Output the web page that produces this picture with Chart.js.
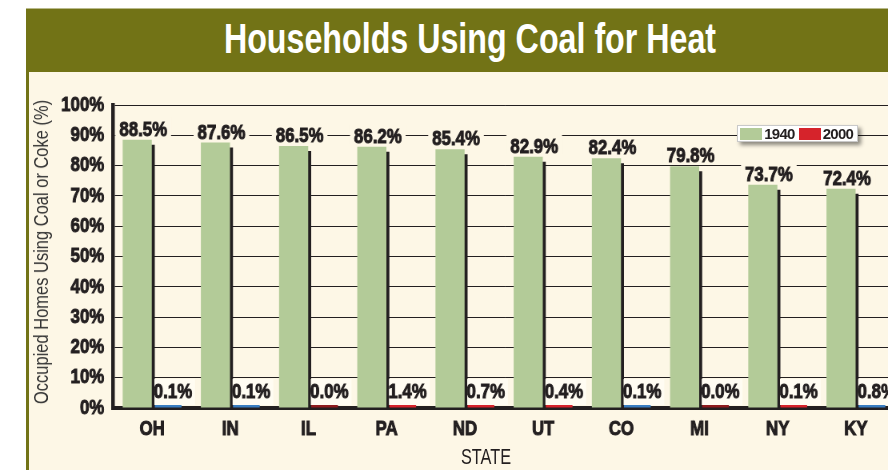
<!DOCTYPE html>
<html>
<head>
<meta charset="utf-8">
<title>Households Using Coal for Heat</title>
<script src="https://cdn.jsdelivr.net/npm/chart.js@4.4.1/dist/chart.umd.min.js"></script>
<style>
  html, body { margin: 0; padding: 0; background: #fff; width: 888px; height: 470px; overflow: hidden; position: relative; }
  #band { position: absolute; left: 26px; top: 8px; width: 900px; height: 64px; background: #727316; border-top: 1px solid #b9ba8c; box-sizing: border-box; }
  #band h1 { margin: 0; width: 888px; text-align: center; color: #fff; font: bold 42px 'Liberation Sans', Arial, sans-serif; line-height: 60px; transform: scaleX(0.767); white-space: nowrap; }
  #panel { position: absolute; left: 26px; top: 72px; width: 900px; height: 398px; background: #fdf7e6; border-left: 3px solid #727316; }
  #wrap { position: absolute; left: 0; top: 72px; width: 900px; height: 398px; }
  #chart { display: block; width: 900px; height: 398px; }
  #ytitle { position: absolute; left: 41px; top: 252px; white-space: nowrap; font: 21px 'Liberation Sans', Arial, sans-serif; color: #333; transform: translate(-50%, -50%) rotate(-90deg) scaleX(0.785); }
  #xtitle { position: absolute; left: 486px; top: 457px; white-space: nowrap; font: 22px 'Liberation Sans', Arial, sans-serif; color: #231f20; transform: translate(-50%, -50%) scaleX(0.74); }
  #legend { position: absolute; left: 737px; top: 125px; width: 121px; height: 17px; box-sizing: border-box; padding-left: 2px; background: #fff; border: 1px solid #c9c9c9; box-shadow: 3px 3px 4px rgba(0,0,0,0.45); display: flex; align-items: center; font: bold 15px 'Liberation Sans', Arial, sans-serif; color: #231f20; }
  #legend .sw { display: inline-block; width: 24px; height: 12px; margin-right: 2px; }
  #legend .lb { display: inline-block; width: 31px; margin-right: 4px; letter-spacing: -0.8px; }
</style>
</head>
<body>
<div id="band"><h1>Households Using Coal for Heat</h1></div>
<div id="panel"></div>
<div id="wrap"><canvas id="chart" width="1125" height="398" style="width:900px;height:398px"></canvas></div>
<div id="ytitle">Occupied Homes Using Coal or Coke (%)</div>
<div id="xtitle">STATE</div>
<div id="legend"></div>
<script>
// chart data
const states = ['OH', 'IN', 'IL', 'PA', 'ND', 'UT', 'CO', 'MI', 'NY', 'KY'];
const share1940 = [88.5, 87.6, 86.5, 86.2, 85.4, 82.9, 82.4, 79.8, 73.7, 72.4];
const share2000 = [0.1, 0.1, 0.0, 1.4, 0.7, 0.4, 0.1, 0.0, 0.1, 0.8];
const colors2000 = ['#3a7dc0', '#3a7dc0', '#8e1b1e', '#d6232b', '#d6232b', '#d6232b', '#3a7dc0', '#8e1b1e', '#d6232b', '#3a7dc0'];
const yTicks = [0, 10, 20, 30, 40, 50, 60, 70, 80, 90, 100];

// canvas is drawn wider than shown, so all its text comes out condensed
const K = 0.8;
const FONT = "'Liberation Sans', Arial, sans-serif";
const INK = '#231f20';

// dark drop shadow to the right of the 1940 bars
const barShadow = {
    id: 'barShadow',
    beforeDatasetDraw(chart, args) {
        if (args.index !== 0) return;
        const ctx = chart.ctx;
        ctx.save();
        ctx.shadowColor = INK;
        ctx.shadowOffsetX = 3 / K;
        ctx.shadowOffsetY = 5;
        ctx.shadowBlur = 0;
    },
    afterDatasetDraw(chart, args) {
        if (args.index !== 0) return;
        chart.ctx.restore();
    }
};

// value labels on a background box
const valueLabels = {
    id: 'valueLabels',
    afterDatasetsDraw(chart) {
        const ctx = chart.ctx;
        const zero = chart.scales.y.getPixelForValue(0);
        ctx.save();
        ctx.font = 'bold 21px ' + FONT;
        ctx.textAlign = 'center';
        ctx.textBaseline = 'alphabetic';
        ctx.strokeStyle = INK;
        ctx.lineWidth = 1;
        chart.data.datasets.forEach((ds, di) => {
            chart.getDatasetMeta(di).data.forEach((bar, i) => {
                const text = ds.data[i].toFixed(1) + '%';
                const w = ctx.measureText(text).width;
                const cx = bar.x + 6 / K;
                let base;
                if (di === 0) {
                    base = bar.y - 4;
                    ctx.fillStyle = '#fdf7e6';
                    ctx.fillRect(cx - w / 2 - 4 / K, base - 18, w + 8 / K, 20);
                } else {
                    base = zero - 10;
                    const left = bar.x - bar.width / 2 + 2 / K;
                    ctx.fillStyle = '#fffcf2';
                    ctx.fillRect(left, base - 19, cx + w / 2 + 3 / K - left, 26);
                }
                ctx.fillStyle = INK;
                ctx.fillText(text, cx, base);
                ctx.strokeText(text, cx, base);
            });
        });
        ctx.restore();
    }
};

const tickFont = { family: FONT, size: 21, weight: 'bold' };

const chart = new Chart(document.getElementById('chart'), {
    type: 'bar',
    data: {
        labels: states,
        datasets: [
            { label: '1940', data: share1940, backgroundColor: '#b3cb98', legendColor: '#b3cb98', categoryPercentage: 0.76, barPercentage: 0.98 },
            { label: '2000', data: share2000, backgroundColor: colors2000, legendColor: '#d6232b', categoryPercentage: 0.76, barPercentage: 0.98, minBarLength: 3 }
        ]
    },
    options: {
        responsive: false,
        animation: false,
        layout: { padding: { left: 0, top: 33, right: 1125 - 895 / K, bottom: 0 } },
        plugins: { legend: { display: false }, tooltip: { enabled: false } },
        scales: {
            x: {
                grid: { display: false, drawTicks: false },
                border: { display: true, color: INK, width: 4 },
                ticks: { color: INK, font: tickFont, textStrokeColor: INK, textStrokeWidth: 1, padding: 9, maxRotation: 0 },
                afterFit(scale) { scale.height = 62; }
            },
            y: {
                min: 0, max: 100,
                afterBuildTicks(scale) { scale.ticks = yTicks.map(v => ({ value: v })); },
                grid: { color: INK, lineWidth: 1, drawTicks: false },
                border: { display: true, color: INK, width: 4.5 },
                ticks: { color: INK, font: tickFont, textStrokeColor: INK, textStrokeWidth: 1, padding: 11, callback: v => v + '%' },
                afterFit(scale) { scale.width = 113 / K; }
            }
        }
    },
    plugins: [barShadow, valueLabels]
});

// legend built from the datasets
const legendEl = document.getElementById('legend');
chart.data.datasets.forEach(ds => {
    legendEl.innerHTML += `<span class="sw" style="background:${ds.legendColor}"></span><span class="lb">${ds.label}</span>`;
});
</script>
</body>
</html>
